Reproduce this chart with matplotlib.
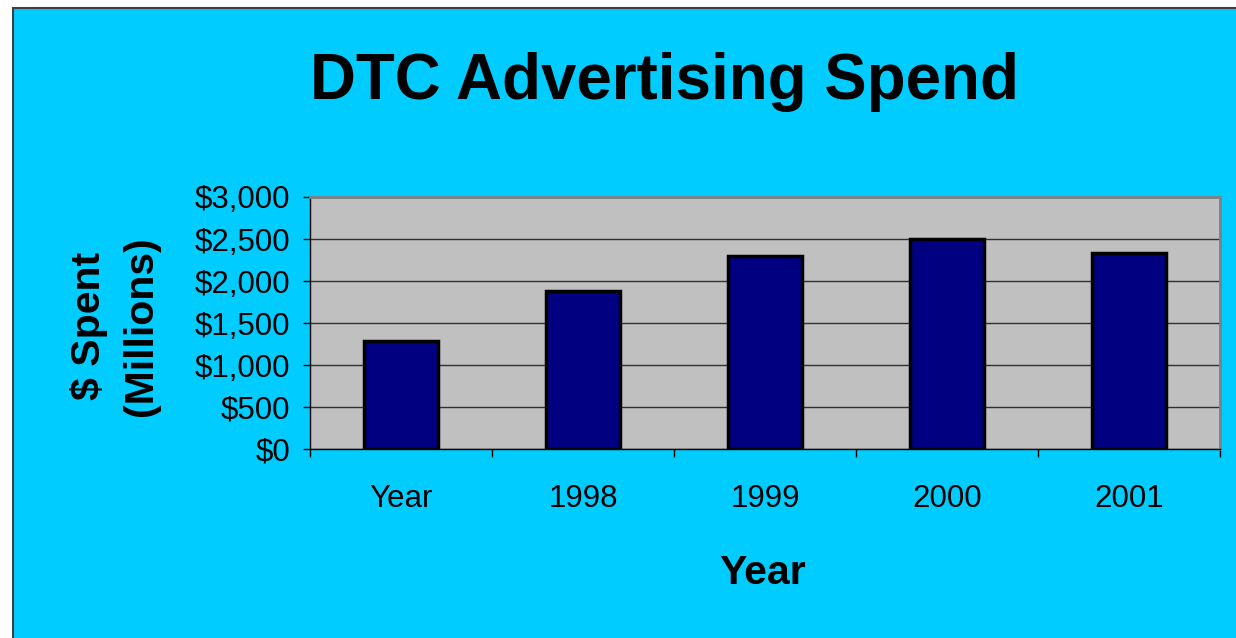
import matplotlib
matplotlib.use("Agg")
import matplotlib.pyplot as plt
from matplotlib.patches import Rectangle

categories = ["Year", "1998", "1999", "2000", "2001"]
values = [1290, 1880, 2300, 2500, 2330]
yticks = [0, 500, 1000, 1500, 2000, 2500, 3000]
ytick_labels = ["$0", "$500", "$1,000", "$1,500", "$2,000", "$2,500", "$3,000"]

plt.rcParams['font.family'] = ['Liberation Sans', 'DejaVu Sans']

W, H = 1236, 638
fig = plt.figure(figsize=(W / 100, H / 100), dpi=100)
fig.patch.set_facecolor("white")

# cyan slide background with border on left/top
bg = Rectangle((13 / W, -0.05), 1.1, 1 - 8 / H + 0.05, transform=fig.transFigure,
               facecolor="#00CCFF", edgecolor="#404040", linewidth=1.5, zorder=-10)
fig.patches.append(bg)

ax = fig.add_axes([310 / W, 1 - 449.3 / H, (1220 - 310) / W, (449.3 - 197) / H])
ax.set_zorder(5)
ax.set_facecolor("#C0C0C0")

x = list(range(len(categories)))
ax.bar(x, values, width=0.405, color="#000080", edgecolor="black", linewidth=2.5, zorder=3)

ax.set_xlim(-0.5, len(categories) - 0.5)
ax.set_ylim(0, 3000)
ax.set_yticks(yticks)
ax.set_yticklabels(ytick_labels, fontsize=22.5)
ax.yaxis.grid(True, color="#303030", linewidth=1.0, zorder=1)
ax.set_axisbelow(True)

ax.set_xticks(x)
ax.set_xticklabels(categories, fontsize=22.5)
ax.set_xticks([i - 0.5 for i in range(len(categories) + 1)], minor=True)
ax.tick_params(axis="x", which="major", length=0, pad=25)
ax.tick_params(axis="x", which="minor", length=6, width=1, direction="out", color="black")
ax.tick_params(axis="y", which="major", length=5, width=1, direction="out", pad=9, color="black")

for s in ["left", "bottom"]:
    ax.spines[s].set_color("black")
    ax.spines[s].set_linewidth(1.0)
for s in ["top", "right"]:
    ax.spines[s].set_color("#808080")
    ax.spines[s].set_linewidth(2.0)

fig.text(665 / W, 1 - 82 / H, "DTC Advertising Spend", fontsize=45.8, fontweight="bold",
         ha="center", va="center", zorder=6)
fig.text(763 / W, 1 - 573 / H, "Year", fontsize=29.5, fontweight="bold",
         ha="center", va="center", zorder=6)
fig.text(115 / W, 1 - 326 / H, "$ Spent\n(Millions)", fontsize=29.5, fontweight="bold",
         ha="center", va="center", rotation=90, linespacing=1.45, multialignment="center",
         zorder=6)

fig.savefig("out.png", dpi=100, facecolor=fig.get_facecolor())
